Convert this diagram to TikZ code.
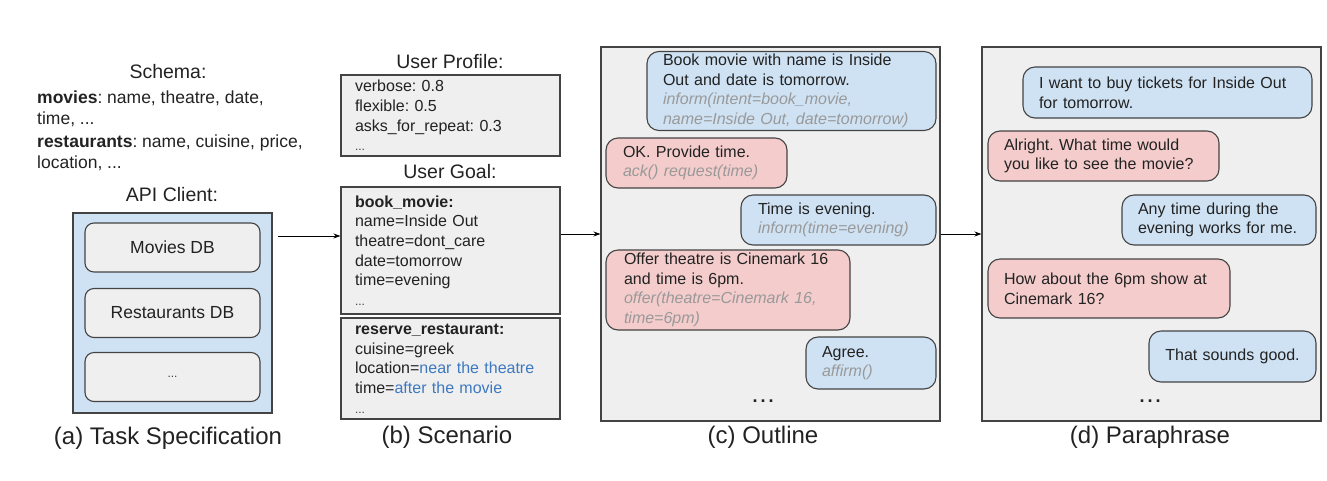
\documentclass[tikz,border=0pt]{standalone}
\usepackage{fontspec}
\setmainfont{Liberation Sans}
\usetikzlibrary{arrows.meta}
\frenchspacing
\definecolor{inkc}{HTML}{222222}
\definecolor{edgec}{HTML}{434343}
\definecolor{panelc}{HTML}{EFEFEF}
\definecolor{userc}{HTML}{CFE2F3}
\definecolor{sysc}{HTML}{F4CCCC}
\definecolor{actc}{HTML}{999999}
\definecolor{linkc}{HTML}{3D78C0}
\newcommand{\bodyfont}{\fontsize{16}{19.7}\selectfont}
\newcommand{\schemafont}{\fontsize{17.5}{20.5}\selectfont}
\newcommand{\titlefont}{\fontsize{19.5}{23}\selectfont}
\newcommand{\capfont}{\fontsize{24}{28}\selectfont}
\newcommand{\act}[1]{{\color{actc}\itshape #1}}
\newcommand{\more}{{\color{black!75}\fontsize{12}{19.7}\selectfont...}}
\newcommand{\etcdots}{\textbf{.\kern3pt.\kern3pt.}}
\tikzset{
  every node/.style={text=inkc},
  plain/.style={inner sep=0pt, font=\schemafont, align=left},
  title/.style={inner sep=0pt, font=\titlefont},
  caption/.style={inner sep=0pt, font=\capfont},
  panel/.style={draw=edgec, line width=1.1pt, fill=panelc, inner sep=0pt},
  card/.style={draw=edgec, line width=1.1pt, fill=panelc, font=\bodyfont,
    align=left, inner ysep=0pt, inner xsep=14pt, minimum height=#1},
  db/.style={draw=edgec, line width=1.1pt, fill=panelc, rounded corners=9pt,
    minimum width=175pt, minimum height=49pt, font=\fontsize{17.5}{20}\selectfont},
  bubble/.style={draw=edgec, line width=1.1pt, rounded corners=12pt,
    font=\bodyfont, align=left, inner ysep=0pt, inner xsep=16pt},
  user/.style={bubble, fill=userc},
  sys/.style={bubble, fill=sysc},
  etc/.style={inner sep=0pt, font=\fontsize{18}{18}\selectfont},
  arr/.style={draw=black, line width=1pt, -{Stealth[length=7pt,width=5pt]}},
}
\begin{document}
\begin{tikzpicture}[x=1pt, y=-1pt]
\useasboundingbox (0,0) rectangle (1327,480);

% ---------- (a) task specification ----------
\node[title] (schemaT) at (168,72) {Schema:};
\node[plain, anchor=north west] (schemaM) at (37,91)
  {\textbf{movies}: name, theatre, date,\\ time, ...};
\node[plain, anchor=north west] (schemaR) at (37,135)
  {\textbf{restaurants}: name, cuisine, price,\\ location, ...};
\node[title] (apiT) at (172,195) {API Client:};
\node[panel, fill=userc, minimum width=199pt, minimum height=200pt] (api) at (172.5,313) {};
\node[db] (dbM) at (172.5,247.5) {Movies DB};
\node[db] (dbR) at (172.5,313) {Restaurants DB};
\node[db] (dbX) at (172.5,377) {\more};
\node[caption] (capA) at (168,438) {(a) Task Specification};

% ---------- (b) scenario ----------
\node[title] (profT) at (450,62) {User Profile:};
\node[card=81pt, text width=191pt] (prof) at (450.5,115.5)
  {verbose: 0.8\\ flexible: 0.5\\ asks\_for\_repeat: 0.3\\ \more};
\node[title] (goalT) at (450,172) {User Goal:};
\node[card=127pt, text width=191pt] (goal1) at (450.5,250.5)
  {\textbf{book\_movie:}\\ name=Inside Out\\ theatre=dont\_care\\ date=tomorrow\\ time=evening\\ \more};
\node[card=101pt, text width=191pt] (goal2) at (450.5,368.5)
  {\textbf{reserve\_restaurant:}\\ cuisine=greek\\ location={\color{linkc}near the theatre}\\ time={\color{linkc}after the movie}\\ \more};
\node[caption] (capB) at (447,437) {(b) Scenario};

% ---------- (c) outline ----------
\node[panel, minimum width=339pt, minimum height=374pt] (outline) at (770.5,234) {};
\node[user, minimum width=289pt, minimum height=79pt, text width=257pt] (o1) at (791.5,91)
  {Book movie with name is Inside\\ Out and date is tomorrow.\\
   \act{inform(intent=book\_movie,}\\ \act{name=Inside Out, date=tomorrow)}};
\node[sys, minimum width=181pt, minimum height=50pt, text width=147pt, inner xsep=17pt] (o2) at (696.5,163)
  {OK. Provide time.\\ \act{ack() request(time)}};
\node[user, minimum width=195pt, minimum height=50pt, text width=161pt, inner xsep=17pt] (o3) at (838.5,220)
  {Time is evening.\\ \act{inform(time=evening)}};
\node[sys, minimum width=244pt, minimum height=80pt, text width=208pt, inner xsep=18pt] (o4) at (728,290)
  {Offer theatre is Cinemark 16\\ and time is 6pm.\\ \act{offer(theatre=Cinemark 16,}\\ \act{time=6pm)}};
\node[user, minimum width=130pt, minimum height=52pt, text width=98pt] (o5) at (871,363)
  {Agree.\\ \act{affirm()}};
\node[etc] (oMore) at (763,401) {\etcdots};
\node[caption] (capC) at (763,437) {(c) Outline};

% ---------- (d) paraphrase ----------
\node[panel, minimum width=339pt, minimum height=374pt] (para) at (1151.5,234) {};
\node[user, minimum width=289pt, minimum height=51pt, text width=257pt] (p1) at (1167.5,92.5)
  {I want to buy tickets for Inside Out\\ for tomorrow.};
\node[sys, minimum width=231pt, minimum height=50pt, text width=199pt] (p2) at (1103.5,156)
  {Alright. What time would\\ you like to see the movie?};
\node[user, minimum width=194pt, minimum height=50pt, text width=162pt] (p3) at (1219,220)
  {Any time during the\\ evening works for me.};
\node[sys, minimum width=242pt, minimum height=59pt, text width=210pt] (p4) at (1109,288.5)
  {How about the 6pm show at\\ Cinemark 16?};
\node[user, align=center, minimum width=167pt, minimum height=51pt, text width=135pt] (p5) at (1232.5,356.5)
  {That sounds good.};
\node[etc] (pMore) at (1150,401) {\etcdots};
\node[caption] (capD) at (1150,437) {(d) Paraphrase};

% ---------- flow between the stages ----------
\coordinate (apiOut) at (278,236);
\draw[arr] (apiOut) -- (apiOut -| goal1.west);
\draw[arr] (outline.west -| goal1.east) -- (outline.west);
\draw[arr] (outline.east) -- (para.west);
\end{tikzpicture}
\end{document}
